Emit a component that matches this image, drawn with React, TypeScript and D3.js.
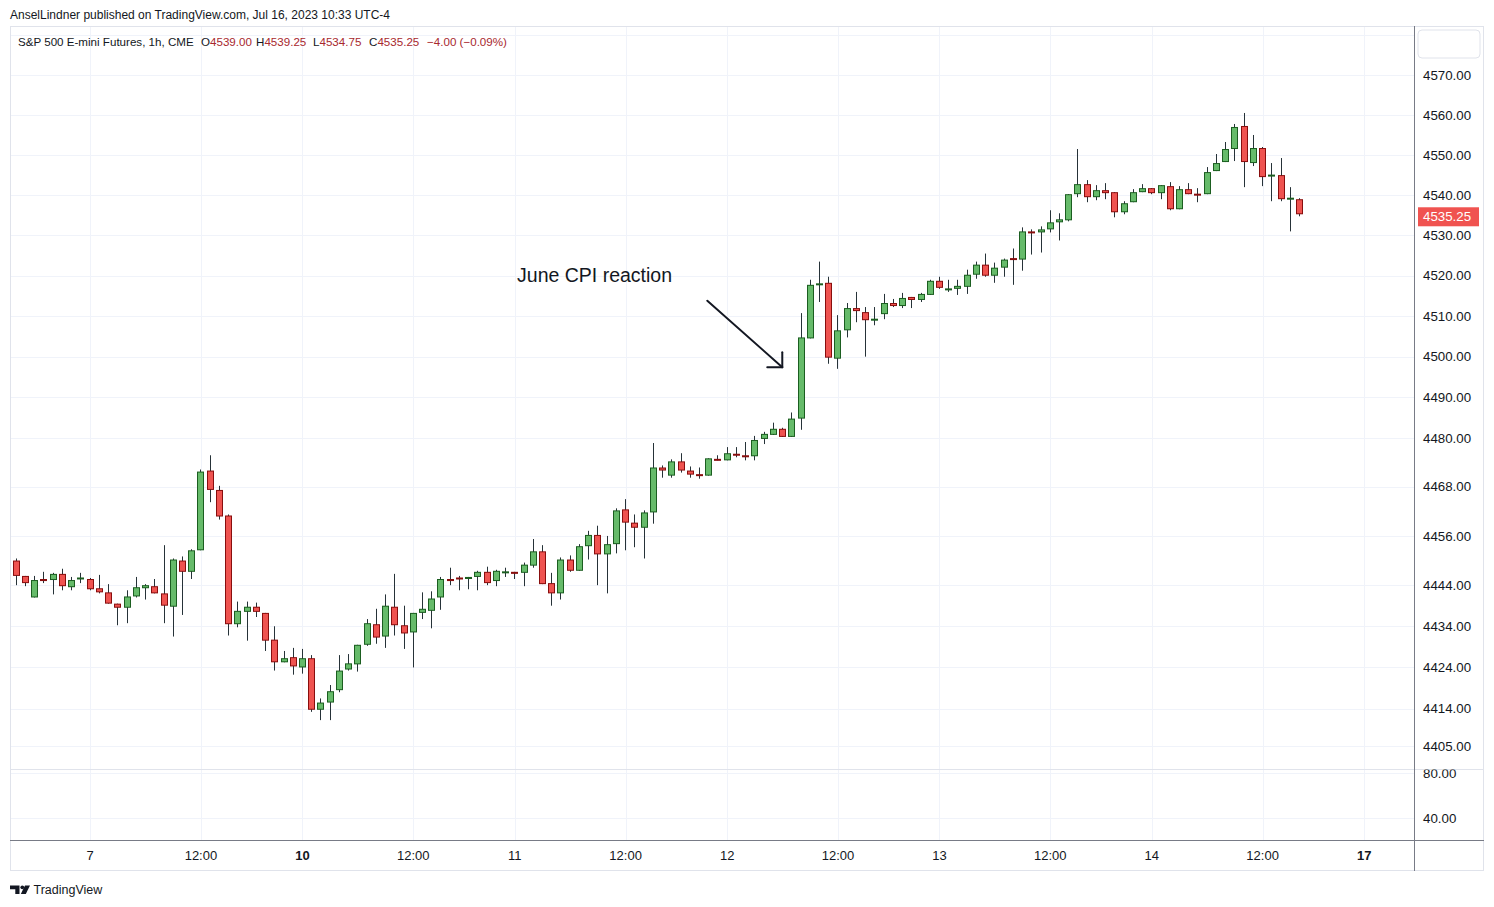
import React from 'react';
import * as d3 from 'd3';

// ---------- data (1h bars, ES futures, UTC-4) ----------
const OPENS = [
  4450, 4446.25, 4441, 4445.5, 4445.25, 4446.75, 4443.5, 4445.5, 4445.5, 4443.25,
  4442.25, 4439.5, 4438.5, 4441.25, 4443.25, 4443.75, 4442, 4438.75, 4450, 4447.25,
  4452.5, 4472, 4467.25, 4461, 4434.5, 4437.5, 4438.75, 4437.25, 4430.75, 4425.25,
  4426.5, 4424, 4426.25, 4413.75, 4415.5, 4418.5, 4423.5, 4424.75, 4429.5, 4434.5,
  4431.5, 4438.75, 4434.25, 4432.5, 4437.25, 4437.75, 4441, 4445.5, 4445.75, 4445.5,
  4446, 4447.25, 4445, 4447, 4447.25, 4447, 4448.75, 4452.25, 4444.5, 4442,
  4450.25, 4447.5, 4453.5, 4456.25, 4451.5, 4454, 4462.5, 4459.25, 4458, 4461.75,
  4472.75, 4470.75, 4474.25, 4472, 4471, 4470.75, 4474.75, 4474.5, 4476, 4475.75,
  4475.5, 4479.75, 4480.75, 4482.25, 4480.25, 4484.75, 4504.5, 4517.75, 4518.25, 4499.5,
  4506.5, 4512, 4511, 4509, 4510.5, 4513.25, 4512.5, 4514.75, 4514, 4515.25,
  4518.75, 4516.5, 4516.75, 4517.25, 4520.25, 4522.75, 4520, 4522, 4524.25, 4524,
  4531, 4530.75, 4531.5, 4533.25, 4533.75, 4540.25, 4542.75, 4539.5, 4541.25, 4540.75,
  4535.75, 4538.25, 4540.75, 4541.75, 4540.5, 4542.25, 4536.5, 4541.5, 4540.25, 4540.25,
  4546, 4548.25, 4551.5, 4557.25, 4548, 4551.75, 4544.75, 4545, 4539, 4539,
];
const HIGHS = [
  4450.5, 4446.25, 4446.25, 4447.25, 4447, 4448, 4446, 4447, 4445.75, 4446.5,
  4444.25, 4439.5, 4442.75, 4446, 4444.25, 4445.5, 4453.75, 4450.5, 4451, 4452.75,
  4472.25, 4475.75, 4468.25, 4461.25, 4440, 4440, 4439.75, 4437.25, 4434, 4428,
  4428.75, 4428.5, 4427, 4416.5, 4419.75, 4427, 4427.25, 4429.5, 4435.75, 4438.25,
  4441.75, 4446.75, 4439, 4437.25, 4442.25, 4442.5, 4446, 4448.25, 4446.25, 4446,
  4447.5, 4448.5, 4447.75, 4448.25, 4447.25, 4449.5, 4455.25, 4453.75, 4447, 4450.75,
  4451.25, 4454, 4457.25, 4458.5, 4456, 4462.75, 4465, 4461.25, 4462.25, 4478.75,
  4473.25, 4474.75, 4476.25, 4473, 4472.75, 4475, 4475.75, 4477.75, 4477.75, 4479,
  4480.5, 4481.5, 4483.75, 4482.5, 4486.25, 4510.75, 4519, 4523.5, 4519.75, 4510.25,
  4513.25, 4516, 4512.25, 4512.25, 4515.5, 4514.25, 4515.75, 4514.75, 4515.75, 4519,
  4519.75, 4519, 4519, 4521.5, 4523.5, 4525.5, 4523.25, 4524.25, 4526.75, 4532,
  4531.5, 4532.25, 4536.25, 4535.5, 4540.25, 4551.5, 4543.75, 4542.5, 4543, 4540.75,
  4538.5, 4541.5, 4542.75, 4541.75, 4542.5, 4543.25, 4542.25, 4543, 4541.75, 4547,
  4550.25, 4553.25, 4557.75, 4560.5, 4555, 4552, 4548, 4549.25, 4542, 4539.25,
];
const LOWS = [
  4444, 4443.75, 4441, 4444.5, 4441.75, 4442.75, 4442.75, 4444.5, 4442.75, 4442,
  4439.5, 4434.25, 4434.75, 4441, 4440.5, 4442, 4434.75, 4431.5, 4436.75, 4445.5,
  4452.5, 4464.25, 4460, 4431.75, 4433.75, 4430.5, 4436.25, 4428, 4423.25, 4425.25,
  4422.25, 4422.5, 4413.25, 4411.25, 4411.25, 4418, 4423.25, 4423, 4429.25, 4429.75,
  4428.75, 4431.75, 4428.5, 4424, 4435.75, 4433.5, 4438, 4444, 4442.75, 4443,
  4442.75, 4444, 4443.75, 4446, 4445.5, 4443.75, 4448.25, 4444.25, 4439, 4440.5,
  4447.25, 4447.5, 4450.25, 4444, 4442, 4451.75, 4452.5, 4453.25, 4450.5, 4459,
  4470.25, 4470.25, 4471.5, 4470.25, 4470, 4470.75, 4474.5, 4474.5, 4475.25, 4474.5,
  4474.5, 4478.5, 4480.75, 4480.25, 4480.25, 4482, 4504.5, 4513.5, 4498.25, 4497,
  4504.75, 4508.5, 4500, 4507.75, 4509.25, 4512.25, 4512, 4512, 4513.5, 4515.25,
  4516.75, 4516, 4515.25, 4515.5, 4519.25, 4519.75, 4518.25, 4519.75, 4517.75, 4521.25,
  4525.25, 4525.75, 4530.75, 4528.75, 4533.5, 4539.5, 4538.25, 4538.75, 4539, 4534.5,
  4535.25, 4538.25, 4540.75, 4540.25, 4539, 4536.25, 4536.5, 4540.25, 4538.25, 4540.25,
  4546, 4548.25, 4548.5, 4542, 4547.25, 4542.25, 4538.5, 4538.5, 4531, 4534.75,
];
const CLOSES = [
  4446.25, 4444.5, 4445.25, 4445, 4446.75, 4443.75, 4445.25, 4445.75, 4443, 4442.25,
  4439.5, 4438.5, 4441.25, 4443.5, 4444, 4442, 4439, 4450.25, 4447.25, 4452.5,
  4471.75, 4467.25, 4460.75, 4434.5, 4437.75, 4438.75, 4437.5, 4430.5, 4425.25, 4426.25,
  4424.25, 4426.25, 4413.75, 4415.5, 4418.25, 4423.25, 4425, 4429.5, 4434.75, 4431.25,
  4439, 4434.25, 4432.25, 4437.25, 4438.25, 4440.75, 4445.5, 4445, 4445.5, 4446,
  4447.25, 4444.5, 4447.5, 4447.25, 4446.75, 4449, 4452.25, 4444.25, 4442, 4450.25,
  4447.5, 4453.5, 4456.25, 4451.5, 4454, 4462.25, 4459.25, 4458, 4461.75, 4472.75,
  4472, 4474.25, 4472, 4471, 4470.75, 4475, 4474.5, 4476.25, 4475.75, 4475.25,
  4479.5, 4481, 4482.25, 4480.25, 4484.75, 4504.75, 4517.75, 4518, 4499.75, 4506.5,
  4512, 4511.25, 4509, 4509.25, 4513.25, 4512.5, 4514.5, 4514, 4515.5, 4518.75,
  4517, 4516.75, 4517.5, 4520.25, 4522.75, 4520, 4522, 4524, 4524, 4531,
  4530.5, 4531.5, 4533.25, 4534, 4540.25, 4542.75, 4539.5, 4541.25, 4540.5, 4535.75,
  4538, 4540.75, 4541.75, 4540.5, 4542.5, 4536.5, 4541.5, 4540.25, 4540, 4545.75,
  4548, 4551.5, 4557, 4548.25, 4551.75, 4544.5, 4545, 4539, 4539.25, 4535.25,
];

const X_TICK_INDEX = [8, 20, 31, 43, 54, 66, 77, 89, 100, 112, 123, 135, 146];
const X_TICK_LABELS = ['7', '12:00', '10', '12:00', '11', '12:00', '12', '12:00', '13', '12:00', '14', '12:00', '17'];
const X_TICK_BOLD = [false, false, true, false, false, false, false, false, false, false, false, false, true];

const PRICE_TICKS = [4405, 4414, 4424, 4434, 4444, 4456, 4468, 4480, 4490, 4500, 4510, 4520, 4530, 4540, 4550, 4560, 4570, 4580];
const LOWER_TICKS = [40, 80];

const ANNOT_TEXT = 'June CPI reaction';
const ANNOT_TEXT_AT = [54.24, 4518.4];
const ARROW_FROM = [74.85, 4513.8];
const ARROW_TO = [82.97, 4497.4];

const HEADER_1 = 'AnselLindner published on TradingView.com, Jul 16, 2023 10:33 UTC-4';
const SYMBOL = 'S&P 500 E-mini Futures, 1h, CME';

// ---------- styles ----------
const FONT = '"Liberation Sans", Arial, Helvetica, sans-serif';
const TEXT = '#131722';
const GRID = '#f0f3fa';
const UP_FILL = '#66bb6a';
const UP_LINE = '#1b5e20';
const DN_FILL = '#ef5350';
const DN_LINE = '#880e0e';
const WICK = '#263238';
const LEGEND_RED = '#a8282e';

const PANE = { left: 10, right: 1414.5, top: 26, bottom: 769 };
const LOW_PANE = { top: 769, bottom: 840 };
const FRAME = { left: 10, right: 1484, top: 26, bottom: 871 };

export default function App() {
  const n = OPENS.length;
  const x = d3.scaleLinear().domain([0, 146]).range([16.3, 16.3 + 146 * 9.232]);
  const y = d3.scaleLog().domain([4405, 4570]).range([746, 75]);
  const yLow = d3.scaleLinear().domain([40, 80]).range([818, 773]);
  const fmt = d3.format('.2f');
  const bw = 7;

  const candles = d3.range(n).map((i) => ({ i, o: OPENS[i], h: HIGHS[i], l: LOWS[i], c: CLOSES[i] }));
  const last = candles[n - 1];
  const lastY = y(last.c);
  const prevClose = CLOSES[n - 2];

  const ax0 = x(ARROW_FROM[0]), ay0 = y(ARROW_FROM[1]);
  const ax1 = x(ARROW_TO[0]), ay1 = y(ARROW_TO[1]);

  const legendItems = [
    { k: 'O', v: fmt(last.o), x: 201 },
    { k: 'H', v: fmt(last.h), x: 256 },
    { k: 'L', v: fmt(last.l), x: 313 },
    { k: 'C', v: fmt(last.c), x: 369 },
  ];
  const change = last.c - prevClose;
  const pct = (change / prevClose) * 100;
  const changeText = `${change < 0 ? '\u2212' : '+'}${fmt(Math.abs(change))} (${pct < 0 ? '\u2212' : '+'}${fmt(Math.abs(pct))}%)`;

  return (
    <div style={{ position: 'absolute', left: 0, top: 0, width: 1494, height: 907, background: '#fff' }}>
      <svg width={1494} height={907} style={{ display: 'block' }} fontFamily={FONT}>
        <defs>
          <clipPath id="mainClip">
            <rect x={PANE.left} y={PANE.top} width={PANE.right - PANE.left} height={PANE.bottom - PANE.top} />
          </clipPath>
          <clipPath id="axisClip">
            <rect x={PANE.right} y={PANE.top + 1} width={FRAME.right - PANE.right} height={PANE.bottom - PANE.top - 1} />
          </clipPath>
          <clipPath id="lowAxisClip">
            <rect x={PANE.right} y={LOW_PANE.top + 0.5} width={FRAME.right - PANE.right} height={LOW_PANE.bottom - LOW_PANE.top} />
          </clipPath>
        </defs>

        <rect x={0} y={0} width={1494} height={907} fill="#fff" />

        {/* header */}
        <text x={10} y={19} fontSize={12} fill={TEXT}>{HEADER_1}</text>

        {/* grid: main pane */}
        <g clipPath="url(#mainClip)">
          {PRICE_TICKS.map((t) => (
            <line key={'hg' + t} x1={PANE.left} x2={PANE.right} y1={Math.round(y(t)) + 0.5} y2={Math.round(y(t)) + 0.5} stroke={GRID} />
          ))}
        </g>
        {X_TICK_INDEX.map((t, k) => (
          <line key={'vg' + k} x1={Math.round(x(t)) + 0.5} x2={Math.round(x(t)) + 0.5} y1={PANE.top} y2={LOW_PANE.bottom} stroke={GRID} />
        ))}
        {LOWER_TICKS.map((t) => (
          <line key={'lg' + t} x1={PANE.left} x2={PANE.right} y1={Math.round(yLow(t)) + 0.5} y2={Math.round(yLow(t)) + 0.5} stroke={GRID} />
        ))}

        {/* candles */}
        <g clipPath="url(#mainClip)">
          {candles.map((d) => {
            const cx = x(d.i);
            const up = d.c >= d.o;
            const top = y(Math.max(d.o, d.c));
            const bot = y(Math.min(d.o, d.c));
            const left = Math.round(cx - bw / 2);
            const wx = left + 3.5;
            const h = Math.max(bot - top, 2);
            const ty = h === 2 ? (top + bot) / 2 - 1 : top;
            return (
              <g key={d.i}>
                <line x1={wx} x2={wx} y1={y(d.h)} y2={y(d.l)} stroke={WICK} strokeWidth={1} />
                <rect x={left} y={ty} width={bw} height={h} fill={up ? UP_LINE : DN_LINE} />
                {h > 3 && (
                  <rect x={left + 1} y={ty + 1} width={bw - 2} height={h - 2} fill={up ? UP_FILL : DN_FILL} />
                )}
              </g>
            );
          })}
        </g>

        {/* annotation */}
        <text x={x(ANNOT_TEXT_AT[0])} y={y(ANNOT_TEXT_AT[1])} fontSize={19.5} fill={TEXT}>{ANNOT_TEXT}</text>
        <g stroke={TEXT} strokeWidth={2} strokeLinecap="round" fill="none">
          <line x1={ax0} y1={ay0} x2={ax1} y2={ay1} />
          <line x1={ax1} y1={ay1} x2={ax1} y2={ay1 - 15} />
          <line x1={ax1} y1={ay1} x2={ax1 - 15} y2={ay1} />
        </g>

        {/* legend line 2 */}
        <text x={18} y={46} fontSize={11.6} fill={TEXT}>{SYMBOL}</text>
        {legendItems.map((it) => (
          <text key={it.k} x={it.x} y={46} fontSize={11.6} fill={TEXT}>
            {it.k}
            <tspan fill={LEGEND_RED}>{it.v}</tspan>
          </text>
        ))}
        <text x={427} y={46} fontSize={11.6} fill={LEGEND_RED}>{changeText}</text>

        {/* pane separators & frame */}
        <line x1={FRAME.left} x2={PANE.right} y1={LOW_PANE.top + 0.5} y2={LOW_PANE.top + 0.5} stroke="#e0e3eb" />
        <line x1={PANE.right} x2={FRAME.right} y1={LOW_PANE.top + 0.5} y2={LOW_PANE.top + 0.5} stroke="#e0e3eb" />
        <rect x={FRAME.left + 0.5} y={FRAME.top + 0.5} width={FRAME.right - FRAME.left - 1} height={FRAME.bottom - FRAME.top - 1} fill="none" stroke="#e0e3eb" />
        <line x1={FRAME.left} x2={FRAME.right} y1={LOW_PANE.bottom + 0.5} y2={LOW_PANE.bottom + 0.5} stroke="#787b86" />
        <line x1={PANE.right} x2={PANE.right} y1={FRAME.top} y2={FRAME.bottom} stroke="#787b86" />

        {/* price axis */}
        <g clipPath="url(#axisClip)">
          {PRICE_TICKS.map((t) => (
            <text key={'pl' + t} x={1423} y={y(t) + 4.6} fontSize={13.3} fill={TEXT}>{fmt(t)}</text>
          ))}
        </g>
        <rect x={1418} y={30} width={62} height={28} rx={4} fill="#fff" stroke="#e0e3eb" />
        <g clipPath="url(#lowAxisClip)">
          {LOWER_TICKS.map((t) => (
            <text key={'ll' + t} x={1423} y={yLow(t) + 4.6} fontSize={13.3} fill={TEXT}>{fmt(t)}</text>
          ))}
        </g>

        {/* last price label */}
        <rect x={1418} y={lastY - 7} width={61} height={19} fill={last.c < prevClose ? '#f05350' : UP_FILL} />
        <text x={1423} y={lastY + 7} fontSize={13.3} fill="#fff">{fmt(last.c)}</text>

        {/* time axis */}
        {X_TICK_INDEX.map((t, k) => (
          <text key={'xl' + k} x={x(t)} y={860} fontSize={13} textAnchor="middle" fill={TEXT} fontWeight={X_TICK_BOLD[k] ? 'bold' : 'normal'}>
            {X_TICK_LABELS[k]}
          </text>
        ))}

        {/* footer logo */}
        <g fill={TEXT}>
          <path d="M10 885.5h9.5v8.5h-4.2v-4.8h-5.3z" />
          <circle cx={22.3} cy={887.3} r={1.9} />
          <path d="M25 885.5h5l-4.2 8.5h-5z" />
        </g>
        <text x={33.5} y={893.5} fontSize={12.5} fill={TEXT}>TradingView</text>
      </svg>
    </div>
  );
}
